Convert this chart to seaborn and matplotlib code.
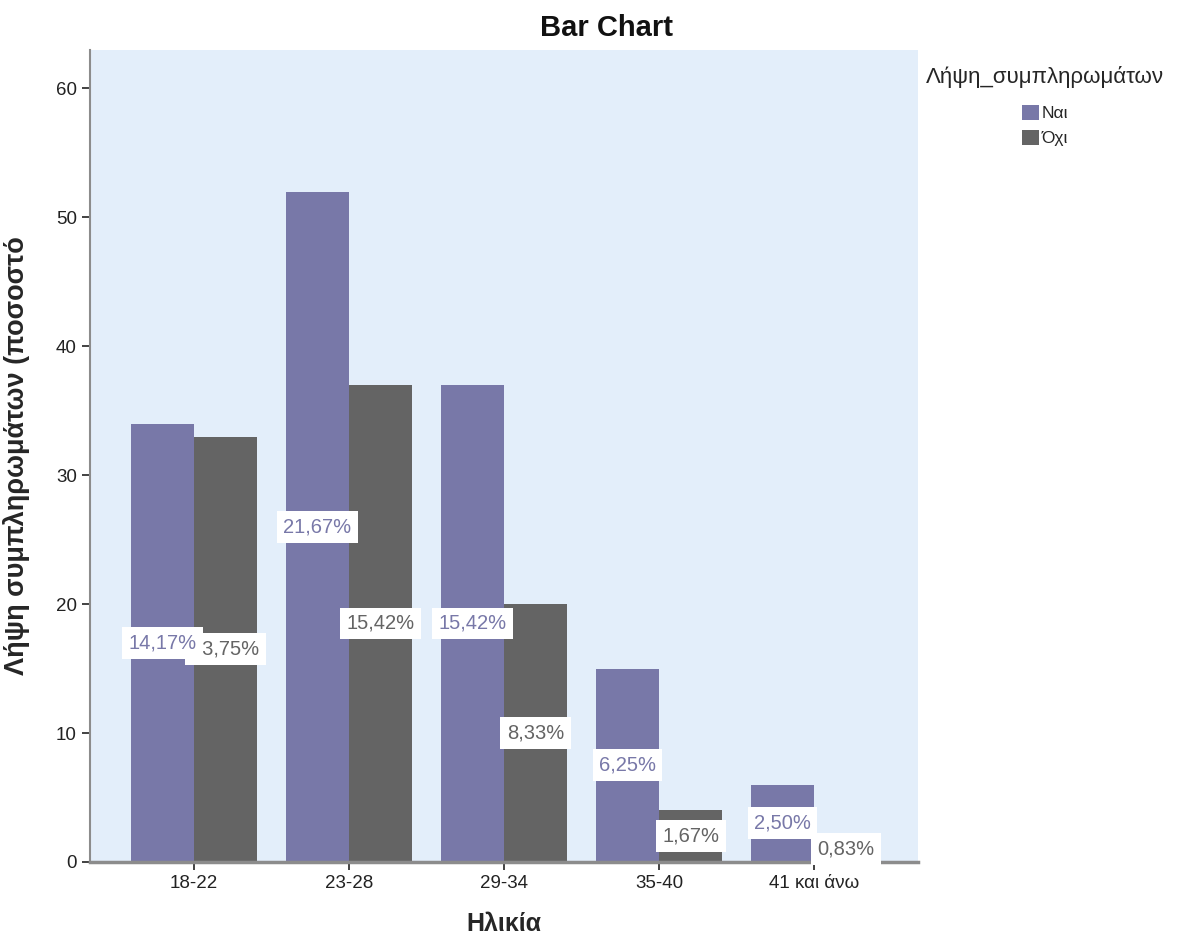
import matplotlib
matplotlib.use("Agg")
import matplotlib.pyplot as plt
import seaborn as sns
import pandas as pd
from matplotlib.patches import Patch

# Age groups and counts per answer
age_groups = ["18-22", "23-28", "29-34", "35-40", "41 και άνω"]
answers = ["Ναι", "Όχι"]
counts_yes = [34, 52, 37, 15, 6]
counts_no = [33, 37, 20, 4, 2]

palette = {"Ναι": "#7878a8", "Όχι": "#646464"}

rows = []
for g, y, n in zip(age_groups, counts_yes, counts_no):
    rows.append({"Ηλικία": g, "Λήψη_συμπληρωμάτων": "Ναι", "count": y})
    rows.append({"Ηλικία": g, "Λήψη_συμπληρωμάτων": "Όχι", "count": n})
df = pd.DataFrame(rows)
total = df["count"].sum()

sns.set_style("white")
plt.rcParams["font.family"] = ["Liberation Sans", "DejaVu Sans"]

fig = plt.figure(figsize=(11.77, 9.4), dpi=100)
ax = fig.add_axes([0.0765, 0.083, 0.7035, 0.864])
ax.set_facecolor("#e3eefa")

sns.barplot(data=df, x="Ηλικία", y="count", hue="Λήψη_συμπληρωμάτων",
            order=age_groups, hue_order=answers, palette=palette,
            width=0.813, gap=0, linewidth=0, saturation=1, ax=ax, legend=False)

ax.set_xlim(-0.671, 4.671)
ax.set_ylim(0, 63)
ax.set_yticks([0, 10, 20, 30, 40, 50, 60])

# Percentage labels at half the bar height, coloured like their bar;
# the "Ναι" labels sit above the "Όχι" ones where they overlap
for hue_idx, container in enumerate(ax.containers):
    ans = answers[hue_idx]
    for bar in container:
        h = bar.get_height()
        pct = h / total * 100
        txt = f"{pct:.2f}%".replace(".", ",")
        ax.text(bar.get_x() + bar.get_width() / 2, h / 2, txt,
                ha="center", va="center", fontsize=14.5, color=palette[ans],
                zorder=6 - hue_idx,
                bbox=dict(boxstyle="square,pad=0.32", facecolor="white",
                          edgecolor="none"))

for s in ["top", "right"]:
    ax.spines[s].set_visible(False)
ax.spines["left"].set_color("#8c8c8c")
ax.spines["left"].set_linewidth(1.5)
ax.spines["bottom"].set_color("#8c8c8c")
ax.spines["bottom"].set_linewidth(2.5)

ax.tick_params(axis="both", which="major", length=6, width=1.3, color="#333333",
               labelsize=13.5, labelcolor="#222222", direction="out", bottom=True, left=True)
ax.set_xlabel("Ηλικία", fontsize=18, fontweight="bold", labelpad=14)
ax.set_ylabel("Λήψη συμπληρωμάτων (ποσοστό", fontsize=19.5, fontweight="bold")
ax.yaxis.set_label_coords(-0.072, 0.5)
fig.text(606 / 1177, 1 - 28 / 940, "Bar Chart", fontsize=21, fontweight="bold",
         ha="center", va="center", color="#111111")

handles = [Patch(facecolor=palette[a], edgecolor="none") for a in answers]
leg = ax.legend(handles, answers, title="Λήψη_συμπληρωμάτων",
                loc="upper left", bbox_to_anchor=(0.995, 0.995),
                frameon=False, fontsize=12.5, title_fontsize=16,
                handlelength=0.95, handleheight=0.95, handletextpad=0.15,
                labelspacing=0.5, borderaxespad=0.3)
leg._legend_box.align = "center"
leg._legend_box.sep = 12

fig.savefig("out.png", dpi=100)
